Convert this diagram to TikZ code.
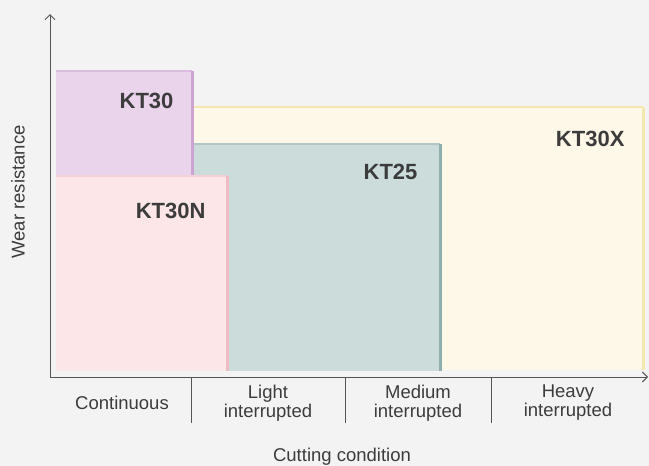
\documentclass[tikz,border=0pt]{standalone}
\usepackage{fontspec}
\setmainfont{Liberation Sans}
\usetikzlibrary{arrows.meta}
\definecolor{paper}{HTML}{F3F3F4}
\definecolor{axisgray}{HTML}{555555}
\definecolor{inkgray}{HTML}{3C3C3C}
\definecolor{lilac}{HTML}{EAD4EC}
\definecolor{lilacedge}{HTML}{CCA3D2}
\definecolor{cream}{HTML}{FEF8E8}
\definecolor{creamedge}{HTML}{F2E8B0}
\definecolor{sage}{HTML}{CBDCDB}
\definecolor{sageedge}{HTML}{8FAEAE}
\definecolor{blush}{HTML}{FCE6E8}
\definecolor{blushedge}{HTML}{F0BCC4}
\tikzset{
    axis/.style={draw=axisgray, line width=1pt},
    grade/.style={font=\fontsize{22}{22}\selectfont\bfseries, text=inkgray, anchor=east},
    cond/.style={font=\fontsize{18.5}{19}\selectfont, text=inkgray, align=center},
}
\begin{document}
\begin{tikzpicture}[x=1pt, y=-1pt]
    \useasboundingbox [fill=paper] (0,0) rectangle (649,466);
    \fill [cream] (192,107) coordinate (x_1) rectangle (643,370) coordinate (x_2);
    \draw [creamedge, line width=1.5pt] (x_1) -- (x_1 -| x_2);
    \draw [creamedge, line width=3pt] (x_1 -| x_2) -- (x_2);
    \fill [sage] (192,144) coordinate (b_1) rectangle (440,371) coordinate (b_2);
    \draw [sageedge!70, line width=1.5pt] (b_1) -- (b_1 -| b_2);
    \draw [sageedge, line width=3pt] (b_1 -| b_2) -- (b_2);
    \fill [lilac] (56,71) coordinate (p_1) rectangle (192,180) coordinate (p_2);
    \draw [lilacedge!70, line width=1.5pt] (p_1) -- (p_1 -| p_2);
    \draw [lilacedge, line width=3pt] (p_1 -| p_2) -- (p_2);
    \fill [blush] (56,176) coordinate (n_1) rectangle (227,371) coordinate (n_2);
    \draw [blushedge!70, line width=1.5pt] (n_1) -- (n_1 -| n_2);
    \draw [blushedge, line width=3pt] (n_1 -| n_2) -- (n_2);
    \node [grade] (kt30) at (177,101) {KT30};
    \node [grade] (kt30x) at (628,139) {KT30X};
    \node [grade] (kt25) at (421,172) {KT25};
    \node [grade] (kt30n) at (209,211) {KT30N};
    \draw [axis, {Straight Barb[length=5pt,width=10pt]}-{Straight Barb[length=5pt,width=10pt]}]
        (50,14) coordinate (ytop) |- (648,377) coordinate (xend);
    \foreach \x in {191,345,491}
        \draw [axis] (\x,377) -- ++(0,46);
    \node [cond] (cont) at (122,403) {Continuous};
    \node [cond] (light) at (268,403) {Light\\interrupted};
    \node [cond] (medium) at (418,403) {Medium\\interrupted};
    \node [cond] (heavy) at (568,403) {Heavy\\interrupted};
    \node [cond] (xlabel) at (342,457) {Cutting condition};
    \node [cond, rotate=90] (ylabel) at (18,192) {Wear resistance};
\end{tikzpicture}
\end{document}
